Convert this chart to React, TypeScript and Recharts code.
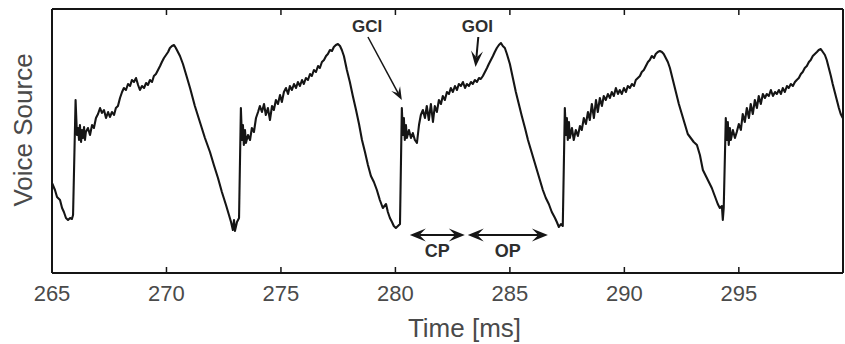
import * as React from 'react'
import {
  LineChart,
  Line,
  XAxis,
  YAxis,
  ReferenceLine,
  ReferenceDot,
} from 'recharts'

// time [ms], voice source amplitude (arbitrary units)
const cycle0: [number, number][] = [
  [265.00, 90], [265.13, 83], [265.22, 76], [265.35, 73], [265.44, 65], [265.52, 61],
  [265.61, 55], [265.70, 53], [265.79, 55], [265.87, 54], [265.92, 58], [266.03, 173],
  [266.09, 138], [266.14, 145], [266.18, 133], [266.22, 148], [266.27, 131], [266.31, 143],
  [266.35, 135], [266.40, 146], [266.44, 133], [266.48, 141], [266.57, 145], [266.66, 138],
  [266.75, 148], [266.83, 145], [266.92, 155], [267.01, 159], [267.10, 165], [267.18, 160],
  [267.27, 163], [267.36, 155], [267.45, 161], [267.53, 156], [267.62, 161], [267.71, 158],
  [267.79, 165], [267.88, 167], [267.97, 175], [268.06, 181], [268.14, 185], [268.23, 183],
  [268.32, 189], [268.41, 187], [268.49, 193], [268.58, 191], [268.67, 195], [268.76, 188],
  [268.84, 183], [268.93, 187], [269.02, 185], [269.11, 190], [269.19, 188], [269.28, 193],
  [269.37, 191], [269.45, 197], [269.54, 199], [269.63, 203], [269.72, 207], [269.80, 211],
  [269.89, 215], [269.98, 218], [270.07, 221], [270.15, 225], [270.24, 227], [270.33, 228],
  [270.41, 225], [270.50, 221], [270.59, 217], [270.72, 209], [270.85, 199], [271.03, 185],
  [271.24, 167], [271.46, 151], [271.68, 135], [271.90, 121], [272.07, 108], [272.25, 95],
  [272.42, 81], [272.60, 68], [272.73, 58], [272.82, 51], [272.90, 43], [272.95, 53],
  [272.99, 42], [273.08, 51], [273.17, 55],
]

const cycle1: [number, number][] = [
  [273.25, 165], [273.30, 133], [273.34, 148], [273.38, 128], [273.43, 143], [273.47, 130],
  [273.56, 138], [273.65, 133], [273.73, 145], [273.82, 141], [273.91, 155], [274.00, 161],
  [274.08, 167], [274.17, 161], [274.26, 169], [274.34, 158], [274.43, 165], [274.52, 153],
  [274.61, 167], [274.69, 163], [274.78, 173], [274.87, 169], [274.96, 178], [275.04, 171],
  [275.13, 181], [275.22, 185], [275.31, 179], [275.39, 187], [275.48, 183], [275.57, 189],
  [275.66, 185], [275.74, 191], [275.83, 187], [275.92, 193], [276.00, 189], [276.09, 195],
  [276.18, 193], [276.27, 199], [276.35, 197], [276.44, 203], [276.53, 201], [276.62, 207],
  [276.70, 205], [276.79, 211], [276.88, 213], [276.97, 217], [277.05, 219], [277.14, 223],
  [277.23, 222], [277.31, 226], [277.40, 228], [277.49, 229], [277.58, 227], [277.66, 223],
  [277.75, 217], [277.88, 203], [278.01, 191], [278.14, 177], [278.28, 163], [278.41, 149],
  [278.54, 133], [278.67, 121], [278.80, 108], [278.93, 97], [279.06, 91], [279.19, 83],
  [279.32, 73], [279.45, 65], [279.59, 69], [279.67, 61], [279.76, 55], [279.85, 51],
  [279.93, 47], [280.02, 45], [280.11, 47], [280.20, 49],
]

const cycle2: [number, number][] = [
  [280.28, 165], [280.33, 138], [280.37, 155], [280.41, 133], [280.46, 148], [280.50, 135],
  [280.59, 143], [280.68, 135], [280.76, 140], [280.85, 133], [280.94, 130], [281.03, 148],
  [281.11, 158], [281.20, 163], [281.29, 155], [281.37, 167], [281.46, 153], [281.55, 169],
  [281.64, 151], [281.72, 167], [281.81, 161], [281.90, 173], [281.99, 169], [282.07, 177],
  [282.16, 173], [282.25, 181], [282.34, 179], [282.42, 185], [282.51, 181], [282.60, 187],
  [282.69, 183], [282.77, 189], [282.86, 187], [282.95, 191], [283.04, 185], [283.12, 189],
  [283.21, 187], [283.30, 191], [283.38, 189], [283.47, 193], [283.56, 191], [283.65, 195],
  [283.73, 194], [283.82, 197], [283.91, 201], [284.00, 205], [284.08, 209], [284.17, 213],
  [284.26, 217], [284.34, 221], [284.43, 225], [284.52, 228], [284.61, 230], [284.69, 227],
  [284.78, 225], [284.87, 219], [285.00, 209], [285.13, 195], [285.26, 181], [285.39, 169],
  [285.52, 157], [285.66, 145], [285.79, 133], [285.92, 123], [286.05, 113], [286.18, 103],
  [286.31, 93], [286.44, 83], [286.57, 75], [286.70, 69], [286.83, 61], [286.97, 55],
  [287.05, 51], [287.14, 46], [287.23, 49], [287.31, 47],
]

const cycle3: [number, number][] = [
  [287.40, 165], [287.45, 138], [287.49, 155], [287.53, 133], [287.58, 151], [287.62, 135],
  [287.71, 145], [287.79, 133], [287.88, 143], [287.97, 137], [288.06, 147], [288.14, 143],
  [288.23, 155], [288.32, 149], [288.41, 161], [288.49, 153], [288.58, 169], [288.67, 155],
  [288.76, 173], [288.84, 161], [288.93, 175], [289.02, 167], [289.10, 177], [289.19, 173],
  [289.28, 179], [289.37, 175], [289.45, 181], [289.54, 177], [289.63, 185], [289.72, 179],
  [289.80, 183], [289.89, 179], [289.98, 185], [290.07, 181], [290.15, 187], [290.24, 185],
  [290.33, 189], [290.42, 187], [290.50, 193], [290.59, 195], [290.68, 197], [290.76, 201],
  [290.85, 203], [290.94, 207], [291.03, 211], [291.11, 213], [291.20, 217], [291.29, 215],
  [291.37, 219], [291.46, 221], [291.55, 222], [291.64, 221], [291.72, 219], [291.81, 215],
  [291.90, 211], [291.99, 205], [292.12, 193], [292.25, 181], [292.38, 169], [292.51, 159],
  [292.64, 149], [292.77, 139], [292.90, 135], [293.03, 131], [293.17, 128], [293.30, 118],
  [293.43, 103], [293.56, 97], [293.69, 91], [293.82, 85], [293.95, 77], [294.08, 69],
  [294.17, 65], [294.26, 67], [294.30, 53], [294.34, 65],
]

const cycle4: [number, number][] = [
  [294.43, 155], [294.48, 133], [294.52, 151], [294.56, 128], [294.61, 145], [294.65, 133],
  [294.74, 143], [294.83, 135], [294.91, 141], [295.00, 149], [295.09, 143], [295.17, 159],
  [295.26, 151], [295.35, 165], [295.44, 155], [295.52, 169], [295.61, 159], [295.70, 173],
  [295.79, 165], [295.87, 177], [295.96, 169], [296.05, 179], [296.14, 175], [296.22, 179],
  [296.31, 177], [296.40, 183], [296.49, 177], [296.58, 181], [296.66, 179], [296.75, 183],
  [296.84, 179], [296.92, 185], [297.01, 181], [297.10, 187], [297.18, 185], [297.27, 189],
  [297.36, 187], [297.45, 191], [297.53, 193], [297.62, 195], [297.71, 199], [297.79, 201],
  [297.88, 205], [297.97, 207], [298.06, 211], [298.14, 213], [298.23, 217], [298.32, 219],
  [298.41, 221], [298.49, 223], [298.58, 224], [298.67, 221], [298.76, 218], [298.84, 213],
  [298.93, 205], [299.02, 197], [299.10, 189], [299.19, 181], [299.28, 173], [299.37, 165],
  [299.45, 159], [299.54, 155],
]

const timeTicks = [265, 270, 275, 280, 285, 290, 295]
const timeDomain = [265, 299.55]
const ampDomain = [0, 264]

// annotations: [label, textT, textV, fromT, fromV, toT, toV]
const pointerNotes: [string, number, number, number, number, number, number][] = [
  ['GCI', 278.76, 247, 278.80, 236, 280.28, 173],
  ['GOI', 283.58, 247, 283.62, 236, 283.50, 206],
]
// spans: [label, startT, endT, arrowV, textV]
const spanNotes: [string, number, number, number, number][] = [
  ['CP', 280.63, 283.03, 38, 22],
  ['OP', 283.16, 286.66, 38, 22],
]

const data = [...cycle0, ...cycle1, ...cycle2, ...cycle3, ...cycle4].map(([t, v]) => ({ t, v }))

const FONT = '"Liberation Sans", Arial, Helvetica, sans-serif'
const TEXT = '#4a4a4a'
const INK = '#151515'

const EmptyTick = () => <g />

// line with barbed arrow head(s), drawn between the segment's end points
const arrowShape = (both: boolean, len: number, wid: number, sw: number) => (props: any) => {
  const { x1, y1, x2, y2 } = props
  const dx = x2 - x1
  const dy = y2 - y1
  const d = Math.hypot(dx, dy) || 1
  const ux = dx / d
  const uy = dy / d
  const px = -uy * wid / 2
  const py = ux * wid / 2
  const head = (tx: number, ty: number, sx: number, sy: number) => {
    const bx = tx - sx * len
    const by = ty - sy * len
    const nx = tx - sx * len * 0.6
    const ny = ty - sy * len * 0.6
    return `${tx},${ty} ${bx + px},${by + py} ${nx},${ny} ${bx - px},${by - py}`
  }
  const sx1 = both ? x1 + ux * len * 0.6 : x1
  const sy1 = both ? y1 + uy * len * 0.6 : y1
  const sx2 = x2 - ux * len * 0.6
  const sy2 = y2 - uy * len * 0.6
  return (
    <g>
      <line x1={sx1} y1={sy1} x2={sx2} y2={sy2} stroke={INK} strokeWidth={sw} />
      <polygon points={head(x2, y2, ux, uy)} fill={INK} />
      {both && <polygon points={head(x1, y1, -ux, -uy)} fill={INK} />}
    </g>
  )
}

const noteLabel = (value: string, size: number) => ({
  value,
  position: 'center' as const,
  fill: '#2e2e2e',
  fontSize: size,
  fontWeight: 700,
  fontFamily: FONT,
})

export default function App() {
  return (
    <div style={{ position: 'absolute', left: 0, top: 0, background: '#fff' }}>
      <LineChart
        width={845}
        height={344}
        data={data}
        margin={{ top: 9, right: 2, bottom: 0, left: 0 }}
      >
        <XAxis
          xAxisId="main"
          dataKey="t"
          type="number"
          domain={timeDomain}
          ticks={timeTicks}
          allowDataOverflow
          height={71}
          tickLine={false}
          tickSize={0}
          tickMargin={12}
          axisLine={{ stroke: INK, strokeWidth: 2 }}
          tick={{ fill: TEXT, fontSize: 22, fontFamily: FONT }}
          label={{
            value: 'Time [ms]',
            position: 'insideBottom',
            offset: 7,
            dx: 17,
            fill: TEXT,
            fontSize: 26,
            fontFamily: FONT,
          }}
        />
        <XAxis
          xAxisId="bottomTicks"
          dataKey="t"
          type="number"
          domain={timeDomain}
          ticks={timeTicks.slice(1)}
          allowDataOverflow
          orientation="bottom"
          mirror
          height={1}
          axisLine={false}
          tick={EmptyTick}
          tickSize={6}
          tickLine={{ stroke: INK, strokeWidth: 1.5 }}
        />
        <XAxis
          xAxisId="top"
          dataKey="t"
          type="number"
          domain={timeDomain}
          ticks={timeTicks.slice(1)}
          allowDataOverflow
          orientation="top"
          mirror
          height={1}
          axisLine={{ stroke: INK, strokeWidth: 2 }}
          tick={EmptyTick}
          tickSize={6}
          tickLine={{ stroke: INK, strokeWidth: 1.5 }}
        />
        <YAxis
          yAxisId="main"
          type="number"
          domain={ampDomain}
          allowDataOverflow
          width={52}
          tick={false}
          tickLine={false}
          axisLine={{ stroke: INK, strokeWidth: 2 }}
          label={{
            value: 'Voice Source',
            angle: -90,
            position: 'center',
            dx: -3,
            dy: -11,
            fill: TEXT,
            fontSize: 26,
            fontFamily: FONT,
          }}
        />
        <YAxis
          yAxisId="right"
          type="number"
          orientation="right"
          domain={ampDomain}
          allowDataOverflow
          mirror
          width={1}
          tick={EmptyTick}
          tickLine={false}
          axisLine={{ stroke: INK, strokeWidth: 2 }}
        />
        {/* invisible series so that the frame axes are laid out and drawn */}
        <Line
          xAxisId="top"
          yAxisId="right"
          dataKey="v"
          stroke="none"
          dot={false}
          activeDot={false}
          legendType="none"
          isAnimationActive={false}
        />
        <Line
          xAxisId="bottomTicks"
          yAxisId="right"
          dataKey="v"
          stroke="none"
          dot={false}
          activeDot={false}
          legendType="none"
          isAnimationActive={false}
        />
        <Line
          xAxisId="main"
          yAxisId="main"
          type="linear"
          dataKey="v"
          stroke={INK}
          strokeWidth={2.1}
          strokeLinejoin="round"
          dot={false}
          isAnimationActive={false}
        />
        {pointerNotes.map(([name, tt, tv, ft, fv, et, ev], i) => (
          <React.Fragment key={name}>
            <ReferenceLine
              xAxisId="main"
              yAxisId="main"
              segment={[{ x: ft, y: fv }, { x: et, y: ev }]}
              shape={i === 0 ? arrowShape(false, 13, 10, 1.5) : arrowShape(false, 16, 12, 2)}
            />
            <ReferenceDot
              xAxisId="main"
              yAxisId="main"
              x={tt}
              y={tv}
              r={0}
              fill="none"
              stroke="none"
              label={noteLabel(name, 17)}
            />
          </React.Fragment>
        ))}
        {spanNotes.map(([name, st, et, av, tv]) => (
          <React.Fragment key={name}>
            <ReferenceLine
              xAxisId="main"
              yAxisId="main"
              segment={[{ x: st, y: av }, { x: et, y: av }]}
              shape={arrowShape(true, 16, 13, 2)}
            />
            <ReferenceDot
              xAxisId="main"
              yAxisId="main"
              x={(st + et) / 2}
              y={tv}
              r={0}
              fill="none"
              stroke="none"
              label={noteLabel(name, 18)}
            />
          </React.Fragment>
        ))}
      </LineChart>
    </div>
  )
}
